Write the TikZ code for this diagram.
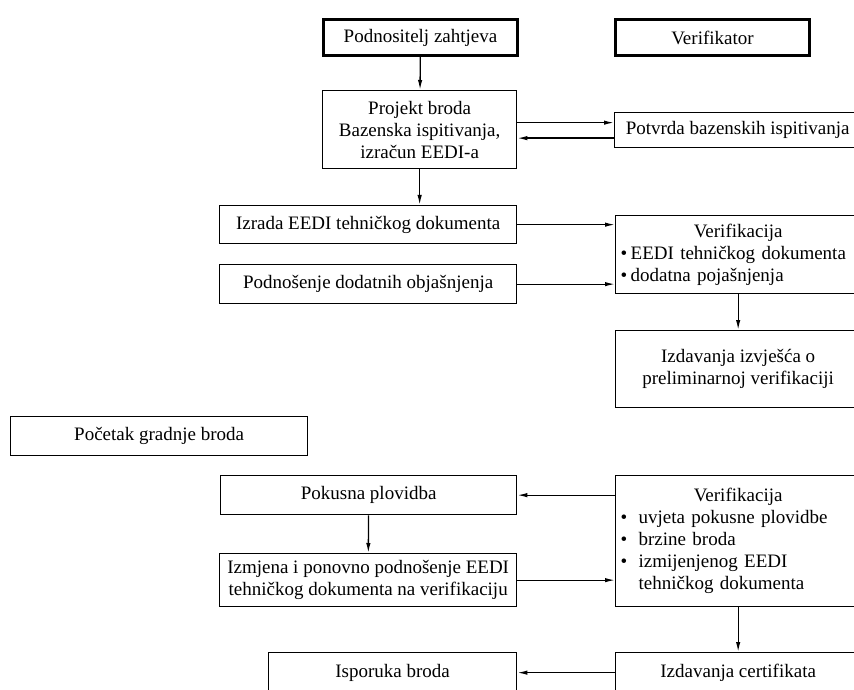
\documentclass[tikz,border=0pt]{standalone}
\usepackage{fontspec}
\setmainfont{Liberation Serif}
\usepackage{tikz}
\usetikzlibrary{arrows.meta,calc,positioning}
\tikzset{
  every picture/.style={draw=black, text=black},
}
\newcommand{\tocka}[1]{\makebox[#1][l]{\textbullet}}

\begin{document}
\begin{tikzpicture}[x=0.5pt, y=-0.5pt,
  every node/.style={font=\fontsize{9.5}{11}\selectfont},
  kutija/.style={draw, line width=0.65pt, anchor=north west, align=center, inner sep=1.5pt},
  glavna/.style={kutija, line width=1.5pt},
  popis/.style={kutija, align=left, inner xsep=2.5pt, text width=117.5pt},
  strelica/.style={line width=0.65pt, -{Latex[length=5pt,width=2.2pt]}}]
\useasboundingbox (0,0) rectangle (854,689);
% Header boxes
\node[glavna, minimum width=97pt, minimum height=18pt] (pod) at (322,18) {Podnositelj zahtjeva};
\node[glavna, minimum width=97pt, minimum height=18pt] (ver) at (614,18) {Verifikator};
% Design phase
\node[kutija, minimum width=97pt, minimum height=39pt] (proj) at (322,90)
  {Projekt broda\\ Bazenska ispitivanja,\\ izračun EEDI-a};
\node[kutija, minimum width=123pt, minimum height=17.5pt] (potv) at (614,112) {Potvrda bazenskih ispitivanja};
\node[kutija, minimum width=148.5pt, minimum height=19pt] (izr) at (219,205) {Izrada EEDI tehničkog dokumenta};
\node[kutija, minimum width=148.5pt, minimum height=19.5pt] (podn) at (219,264) {Podnošenje dodatnih objašnjenja};
\node[popis, minimum width=122.5pt, minimum height=39pt] (ver1) at (615,215)
  {\noindent\makebox[\hsize]{Verifikacija}\\
   \tocka{5pt}EEDI tehničkog dokumenta\\
   \tocka{5pt}dodatna pojašnjenja};
\node[kutija, minimum width=122.5pt, minimum height=38.5pt] (izd1) at (615,330)
  {Izdavanja izvješća o\\ preliminarnoj verifikaciji};
% Construction phase
\node[kutija, minimum width=148.5pt, minimum height=19.5pt] (poc) at (10,416) {Početak gradnje broda};
\node[kutija, minimum width=148pt, minimum height=19.5pt] (pok) at (220,475) {Pokusna plovidba};
\node[kutija, minimum width=148.5pt, minimum height=26.5pt, inner xsep=0.5pt] (izm) at (219,553)
  {Izmjena i ponovno podnošenje EEDI\\ tehničkog dokumenta na verifikaciju};
\node[popis, minimum width=122.5pt, minimum height=65.5pt] (ver2) at (615,475)
  {\noindent\makebox[\hsize]{Verifikacija}\\
   \tocka{9pt}uvjeta pokusne plovidbe\\
   \tocka{9pt}brzine broda\\
   \tocka{9pt}izmijenjenog EEDI\\
   \hspace*{9pt}tehničkog dokumenta};
\node[kutija, minimum width=124pt, minimum height=20pt] (isp) at (268,652) {Isporuka broda};
\node[kutija, minimum width=122.5pt, minimum height=20pt] (izd2) at (615,652) {Izdavanja certifikata};
% Connectors
\draw[strelica] (pod) -- (proj);
\draw[strelica] ([yshift=3.5pt]proj.east) -- ([yshift=3.5pt]proj.east -| potv.west);
\draw[strelica] ([yshift=-4pt]potv.west) -- ([yshift=-4pt]potv.west -| proj.east);
\draw[strelica] (proj.south) -- (proj.south |- izr.north);
\draw[strelica] (izr.east) -- (izr.east -| ver1.west);
\draw[strelica] (podn.east) -- (podn.east -| ver1.west);
\draw[strelica] (ver1) -- (izd1);
\draw[strelica] (pok.east -| ver2.west) -- (pok.east);
\draw[strelica] (pok) -- (izm);
\draw[strelica] (izm.east) -- (izm.east -| ver2.west);
\draw[strelica] (ver2) -- (izd2);
\draw[strelica] (izd2) -- (isp);
\end{tikzpicture}
\end{document}
